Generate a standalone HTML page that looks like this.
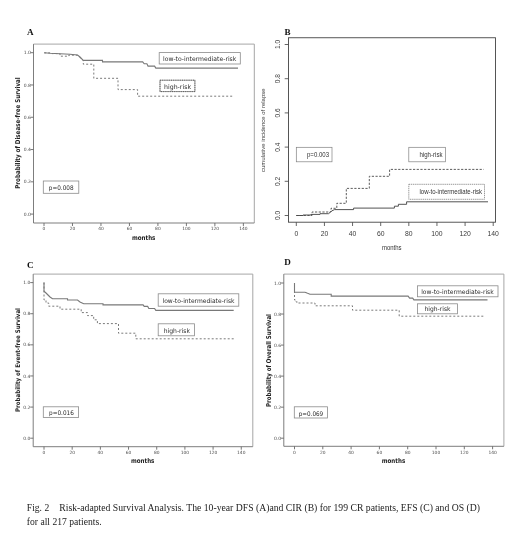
<!DOCTYPE html>
<html lang="en"><head><meta charset="utf-8"><title>Fig. 2 Risk-adapted Survival Analysis</title>
<style>html,body{margin:0;padding:0;background:#fff}body{width:520px;height:552px;overflow:hidden}svg{display:block}</style></head><body>
<svg width="520" height="552" viewBox="0 0 520 552">
<rect x="0" y="0" width="520" height="552" fill="#fff"/>
<path d="M33.5 44.1 L254.3 44.1 L254.3 223" fill="none" stroke="#a6a6a6" stroke-width="1"/>
<path d="M33.5 44.1 L33.5 223 L254.3 223" fill="none" stroke="#767676" stroke-width="0.95"/>
<line x1="30.5" y1="52.7" x2="33.5" y2="52.7" stroke="#666" stroke-width="0.9"/>
<text x="30.8" y="54.3" font-size="4.5" font-family='"DejaVu Sans","Liberation Sans",sans-serif' font-weight="normal" text-anchor="end" fill="#4c4c4c">1.0</text>
<line x1="30.5" y1="84.97999999999999" x2="33.5" y2="84.97999999999999" stroke="#666" stroke-width="0.9"/>
<text x="30.8" y="86.58" font-size="4.5" font-family='"DejaVu Sans","Liberation Sans",sans-serif' font-weight="normal" text-anchor="end" fill="#4c4c4c">0.8</text>
<line x1="30.5" y1="117.25999999999999" x2="33.5" y2="117.25999999999999" stroke="#666" stroke-width="0.9"/>
<text x="30.8" y="118.86" font-size="4.5" font-family='"DejaVu Sans","Liberation Sans",sans-serif' font-weight="normal" text-anchor="end" fill="#4c4c4c">0.6</text>
<line x1="30.5" y1="149.54" x2="33.5" y2="149.54" stroke="#666" stroke-width="0.9"/>
<text x="30.8" y="151.14" font-size="4.5" font-family='"DejaVu Sans","Liberation Sans",sans-serif' font-weight="normal" text-anchor="end" fill="#4c4c4c">0.4</text>
<line x1="30.5" y1="181.82" x2="33.5" y2="181.82" stroke="#666" stroke-width="0.9"/>
<text x="30.8" y="183.42" font-size="4.5" font-family='"DejaVu Sans","Liberation Sans",sans-serif' font-weight="normal" text-anchor="end" fill="#4c4c4c">0.2</text>
<line x1="30.5" y1="214.09999999999997" x2="33.5" y2="214.09999999999997" stroke="#666" stroke-width="0.9"/>
<text x="30.8" y="215.7" font-size="4.5" font-family='"DejaVu Sans","Liberation Sans",sans-serif' font-weight="normal" text-anchor="end" fill="#4c4c4c">0.0</text>
<line x1="44.0" y1="223" x2="44.0" y2="226.0" stroke="#666" stroke-width="0.9"/>
<text x="44.0" y="230.3" font-size="4.4" font-family='"DejaVu Sans","Liberation Sans",sans-serif' font-weight="normal" text-anchor="middle" fill="#4c4c4c">0</text>
<line x1="72.48" y1="223" x2="72.48" y2="226.0" stroke="#666" stroke-width="0.9"/>
<text x="72.48" y="230.3" font-size="4.4" font-family='"DejaVu Sans","Liberation Sans",sans-serif' font-weight="normal" text-anchor="middle" fill="#4c4c4c">20</text>
<line x1="100.96000000000001" y1="223" x2="100.96000000000001" y2="226.0" stroke="#666" stroke-width="0.9"/>
<text x="100.96" y="230.3" font-size="4.4" font-family='"DejaVu Sans","Liberation Sans",sans-serif' font-weight="normal" text-anchor="middle" fill="#4c4c4c">40</text>
<line x1="129.44" y1="223" x2="129.44" y2="226.0" stroke="#666" stroke-width="0.9"/>
<text x="129.44" y="230.3" font-size="4.4" font-family='"DejaVu Sans","Liberation Sans",sans-serif' font-weight="normal" text-anchor="middle" fill="#4c4c4c">60</text>
<line x1="157.92000000000002" y1="223" x2="157.92000000000002" y2="226.0" stroke="#666" stroke-width="0.9"/>
<text x="157.92" y="230.3" font-size="4.4" font-family='"DejaVu Sans","Liberation Sans",sans-serif' font-weight="normal" text-anchor="middle" fill="#4c4c4c">80</text>
<line x1="186.4" y1="223" x2="186.4" y2="226.0" stroke="#666" stroke-width="0.9"/>
<text x="186.4" y="230.3" font-size="4.4" font-family='"DejaVu Sans","Liberation Sans",sans-serif' font-weight="normal" text-anchor="middle" fill="#4c4c4c">100</text>
<line x1="214.88" y1="223" x2="214.88" y2="226.0" stroke="#666" stroke-width="0.9"/>
<text x="214.88" y="230.3" font-size="4.4" font-family='"DejaVu Sans","Liberation Sans",sans-serif' font-weight="normal" text-anchor="middle" fill="#4c4c4c">120</text>
<line x1="243.36" y1="223" x2="243.36" y2="226.0" stroke="#666" stroke-width="0.9"/>
<text x="243.36" y="230.3" font-size="4.4" font-family='"DejaVu Sans","Liberation Sans",sans-serif' font-weight="normal" text-anchor="middle" fill="#4c4c4c">140</text>
<text x="27" y="35.2" font-size="9.1" font-family='"Liberation Serif",serif' font-weight="bold" text-anchor="start" fill="#111">A</text>
<text x="143.7" y="239.9" font-size="6.6" font-family='"DejaVu Sans","Liberation Sans",sans-serif' font-weight="bold" text-anchor="middle" fill="#222" textLength="23.5" lengthAdjust="spacingAndGlyphs">months</text>
<text x="19.8" y="133" font-size="6.6" font-family='"DejaVu Sans","Liberation Sans",sans-serif' font-weight="bold" text-anchor="middle" fill="#222" transform="rotate(-90 19.8 133)" textLength="111.5" lengthAdjust="spacingAndGlyphs">Probability of Disease-free Survival</text>
<path d="M44.2 52.7 L50 53.2 L60 53.8 L70 54.3 L77.5 55 L80 57 L83.3 60.4 L102.5 60.4 L102.5 61.9 L142.7 61.9 L144.2 63.8 L146.9 63.8 L148 66.1 L154.6 66.1 L155.8 68.1 L238 68.1" fill="none" stroke="#787878" stroke-width="1.1" stroke-linejoin="miter"/>
<path d="M44.2 52.9 L52 52.9 L52 53.6 L60 53.6 L60 56.2 L68.8 56.2 L68.8 55.2 L77.5 55.2 L83.3 60.6 L83.3 64.2 L93.8 64.2 L93.8 78.3 L118 78.3 L118 89.6 L137.6 89.6 L137.6 96.2 L233.7 96.2" fill="none" stroke="#7a7a7a" stroke-width="1.0" stroke-dasharray="2 2" stroke-linejoin="miter"/>
<rect x="159.2" y="52.6" width="81.1" height="11.4" fill="#fff" stroke="#8a8a8a" stroke-width="0.8"/>
<text x="163.0" y="61.2" font-size="6.3" font-family='"DejaVu Sans","Liberation Sans",sans-serif' font-weight="normal" text-anchor="start" fill="#2a2a2a" textLength="73.3" lengthAdjust="spacingAndGlyphs">low-to-intermediate-risk</text>
<rect x="160" y="80.2" width="34.9" height="11.4" fill="#fff" stroke="#9a9a9a" stroke-width="0.9"/>
<rect x="160" y="80.2" width="34.9" height="11.4" fill="none" stroke="#555" stroke-width="0.9" stroke-dasharray="1 1.2"/>
<text x="164.0" y="88.9" font-size="6.3" font-family='"DejaVu Sans","Liberation Sans",sans-serif' font-weight="normal" text-anchor="start" fill="#2a2a2a" textLength="27" lengthAdjust="spacingAndGlyphs">high-risk</text>
<path d="M33.2 274.1 L252.8 274.1 L252.8 446.7" fill="none" stroke="#a6a6a6" stroke-width="1"/>
<path d="M33.2 274.1 L33.2 446.7 L252.8 446.7" fill="none" stroke="#767676" stroke-width="0.95"/>
<line x1="30.200000000000003" y1="282.6" x2="33.2" y2="282.6" stroke="#666" stroke-width="0.9"/>
<text x="30.500000000000004" y="284.2" font-size="4.5" font-family='"DejaVu Sans","Liberation Sans",sans-serif' font-weight="normal" text-anchor="end" fill="#4c4c4c">1.0</text>
<line x1="30.200000000000003" y1="313.72" x2="33.2" y2="313.72" stroke="#666" stroke-width="0.9"/>
<text x="30.500000000000004" y="315.32" font-size="4.5" font-family='"DejaVu Sans","Liberation Sans",sans-serif' font-weight="normal" text-anchor="end" fill="#4c4c4c">0.8</text>
<line x1="30.200000000000003" y1="344.84000000000003" x2="33.2" y2="344.84000000000003" stroke="#666" stroke-width="0.9"/>
<text x="30.500000000000004" y="346.44" font-size="4.5" font-family='"DejaVu Sans","Liberation Sans",sans-serif' font-weight="normal" text-anchor="end" fill="#4c4c4c">0.6</text>
<line x1="30.200000000000003" y1="375.96000000000004" x2="33.2" y2="375.96000000000004" stroke="#666" stroke-width="0.9"/>
<text x="30.500000000000004" y="377.56" font-size="4.5" font-family='"DejaVu Sans","Liberation Sans",sans-serif' font-weight="normal" text-anchor="end" fill="#4c4c4c">0.4</text>
<line x1="30.200000000000003" y1="407.08" x2="33.2" y2="407.08" stroke="#666" stroke-width="0.9"/>
<text x="30.500000000000004" y="408.68" font-size="4.5" font-family='"DejaVu Sans","Liberation Sans",sans-serif' font-weight="normal" text-anchor="end" fill="#4c4c4c">0.2</text>
<line x1="30.200000000000003" y1="438.2" x2="33.2" y2="438.2" stroke="#666" stroke-width="0.9"/>
<text x="30.500000000000004" y="439.8" font-size="4.5" font-family='"DejaVu Sans","Liberation Sans",sans-serif' font-weight="normal" text-anchor="end" fill="#4c4c4c">0.0</text>
<line x1="44.0" y1="446.7" x2="44.0" y2="449.7" stroke="#666" stroke-width="0.9"/>
<text x="44.0" y="454.0" font-size="4.4" font-family='"DejaVu Sans","Liberation Sans",sans-serif' font-weight="normal" text-anchor="middle" fill="#4c4c4c">0</text>
<line x1="72.18" y1="446.7" x2="72.18" y2="449.7" stroke="#666" stroke-width="0.9"/>
<text x="72.18" y="454.0" font-size="4.4" font-family='"DejaVu Sans","Liberation Sans",sans-serif' font-weight="normal" text-anchor="middle" fill="#4c4c4c">20</text>
<line x1="100.36" y1="446.7" x2="100.36" y2="449.7" stroke="#666" stroke-width="0.9"/>
<text x="100.36" y="454.0" font-size="4.4" font-family='"DejaVu Sans","Liberation Sans",sans-serif' font-weight="normal" text-anchor="middle" fill="#4c4c4c">40</text>
<line x1="128.54" y1="446.7" x2="128.54" y2="449.7" stroke="#666" stroke-width="0.9"/>
<text x="128.54" y="454.0" font-size="4.4" font-family='"DejaVu Sans","Liberation Sans",sans-serif' font-weight="normal" text-anchor="middle" fill="#4c4c4c">60</text>
<line x1="156.72" y1="446.7" x2="156.72" y2="449.7" stroke="#666" stroke-width="0.9"/>
<text x="156.72" y="454.0" font-size="4.4" font-family='"DejaVu Sans","Liberation Sans",sans-serif' font-weight="normal" text-anchor="middle" fill="#4c4c4c">80</text>
<line x1="184.9" y1="446.7" x2="184.9" y2="449.7" stroke="#666" stroke-width="0.9"/>
<text x="184.9" y="454.0" font-size="4.4" font-family='"DejaVu Sans","Liberation Sans",sans-serif' font-weight="normal" text-anchor="middle" fill="#4c4c4c">100</text>
<line x1="213.07999999999998" y1="446.7" x2="213.07999999999998" y2="449.7" stroke="#666" stroke-width="0.9"/>
<text x="213.08" y="454.0" font-size="4.4" font-family='"DejaVu Sans","Liberation Sans",sans-serif' font-weight="normal" text-anchor="middle" fill="#4c4c4c">120</text>
<line x1="241.26" y1="446.7" x2="241.26" y2="449.7" stroke="#666" stroke-width="0.9"/>
<text x="241.26" y="454.0" font-size="4.4" font-family='"DejaVu Sans","Liberation Sans",sans-serif' font-weight="normal" text-anchor="middle" fill="#4c4c4c">140</text>
<text x="27" y="267.6" font-size="9.1" font-family='"Liberation Serif",serif' font-weight="bold" text-anchor="start" fill="#111">C</text>
<text x="142.7" y="463.2" font-size="6.6" font-family='"DejaVu Sans","Liberation Sans",sans-serif' font-weight="bold" text-anchor="middle" fill="#222" textLength="23.5" lengthAdjust="spacingAndGlyphs">months</text>
<text x="19.6" y="360" font-size="6.3" font-family='"DejaVu Sans","Liberation Sans",sans-serif' font-weight="bold" text-anchor="middle" fill="#222" transform="rotate(-90 19.6 360)" textLength="104" lengthAdjust="spacingAndGlyphs">Probability of Event-free Survival</text>
<path d="M44 282.5 L44 291.2 L46 293 L48 295 L50 297 L52.5 298.7 L67.5 298.7 L67.5 300 L77.5 300 L80 302 L83.7 303.7 L103 303.7 L103 304.9 L143.1 304.9 L144.2 306.4 L147.7 306.4 L148.8 308.5 L154.6 308.5 L155.8 310.4 L233.7 310.4" fill="none" stroke="#787878" stroke-width="1.1" stroke-linejoin="miter"/>
<path d="M44 282.5 L44 300 L46 300 L46 303 L48.7 303 L48.7 306.2 L60 306.2 L60 309.2 L81.2 309.2 L81.2 312.6 L87.5 312.6 L87.5 315.6 L93.7 315.6 L93.7 319.8 L97.4 319.8 L97.4 323.6 L118.5 323.6 L118.5 333.2 L135.8 333.2 L135.8 338.8 L234.5 338.8" fill="none" stroke="#7a7a7a" stroke-width="1.0" stroke-dasharray="2 2" stroke-linejoin="miter"/>
<rect x="158.2" y="293.8" width="80.6" height="12.4" fill="#fff" stroke="#8a8a8a" stroke-width="0.8"/>
<text x="162.5" y="302.6" font-size="6.3" font-family='"DejaVu Sans","Liberation Sans",sans-serif' font-weight="normal" text-anchor="start" fill="#2a2a2a" textLength="72" lengthAdjust="spacingAndGlyphs">low-to-intermediate-risk</text>
<rect x="158.2" y="323.8" width="36.3" height="12.0" fill="#fff" stroke="#8a8a8a" stroke-width="0.8"/>
<text x="163.7" y="333.0" font-size="6.3" font-family='"DejaVu Sans","Liberation Sans",sans-serif' font-weight="normal" text-anchor="start" fill="#2a2a2a" textLength="26.3" lengthAdjust="spacingAndGlyphs">high-risk</text>
<rect x="43.3" y="406.8" width="35.3" height="10.8" fill="#fff" stroke="#8a8a8a" stroke-width="0.8"/>
<text x="49" y="415.3" font-size="6.3" font-family='"DejaVu Sans","Liberation Sans",sans-serif' font-weight="normal" text-anchor="start" fill="#2a2a2a" textLength="24.8" lengthAdjust="spacingAndGlyphs">p=0.016</text>
<path d="M283.8 274.1 L503.9 274.1 L503.9 446.3" fill="none" stroke="#a6a6a6" stroke-width="1"/>
<path d="M283.8 274.1 L283.8 446.3 L503.9 446.3" fill="none" stroke="#767676" stroke-width="0.95"/>
<line x1="280.8" y1="283.0" x2="283.8" y2="283.0" stroke="#666" stroke-width="0.9"/>
<text x="281.1" y="284.6" font-size="4.5" font-family='"DejaVu Sans","Liberation Sans",sans-serif' font-weight="normal" text-anchor="end" fill="#4c4c4c">1.0</text>
<line x1="280.8" y1="314.04" x2="283.8" y2="314.04" stroke="#666" stroke-width="0.9"/>
<text x="281.1" y="315.64" font-size="4.5" font-family='"DejaVu Sans","Liberation Sans",sans-serif' font-weight="normal" text-anchor="end" fill="#4c4c4c">0.8</text>
<line x1="280.8" y1="345.08" x2="283.8" y2="345.08" stroke="#666" stroke-width="0.9"/>
<text x="281.1" y="346.68" font-size="4.5" font-family='"DejaVu Sans","Liberation Sans",sans-serif' font-weight="normal" text-anchor="end" fill="#4c4c4c">0.6</text>
<line x1="280.8" y1="376.12" x2="283.8" y2="376.12" stroke="#666" stroke-width="0.9"/>
<text x="281.1" y="377.72" font-size="4.5" font-family='"DejaVu Sans","Liberation Sans",sans-serif' font-weight="normal" text-anchor="end" fill="#4c4c4c">0.4</text>
<line x1="280.8" y1="407.15999999999997" x2="283.8" y2="407.15999999999997" stroke="#666" stroke-width="0.9"/>
<text x="281.1" y="408.76" font-size="4.5" font-family='"DejaVu Sans","Liberation Sans",sans-serif' font-weight="normal" text-anchor="end" fill="#4c4c4c">0.2</text>
<line x1="280.8" y1="438.2" x2="283.8" y2="438.2" stroke="#666" stroke-width="0.9"/>
<text x="281.1" y="439.8" font-size="4.5" font-family='"DejaVu Sans","Liberation Sans",sans-serif' font-weight="normal" text-anchor="end" fill="#4c4c4c">0.0</text>
<line x1="294.5" y1="446.3" x2="294.5" y2="449.3" stroke="#666" stroke-width="0.9"/>
<text x="294.5" y="453.6" font-size="4.4" font-family='"DejaVu Sans","Liberation Sans",sans-serif' font-weight="normal" text-anchor="middle" fill="#4c4c4c">0</text>
<line x1="322.8" y1="446.3" x2="322.8" y2="449.3" stroke="#666" stroke-width="0.9"/>
<text x="322.8" y="453.6" font-size="4.4" font-family='"DejaVu Sans","Liberation Sans",sans-serif' font-weight="normal" text-anchor="middle" fill="#4c4c4c">20</text>
<line x1="351.1" y1="446.3" x2="351.1" y2="449.3" stroke="#666" stroke-width="0.9"/>
<text x="351.1" y="453.6" font-size="4.4" font-family='"DejaVu Sans","Liberation Sans",sans-serif' font-weight="normal" text-anchor="middle" fill="#4c4c4c">40</text>
<line x1="379.4" y1="446.3" x2="379.4" y2="449.3" stroke="#666" stroke-width="0.9"/>
<text x="379.4" y="453.6" font-size="4.4" font-family='"DejaVu Sans","Liberation Sans",sans-serif' font-weight="normal" text-anchor="middle" fill="#4c4c4c">60</text>
<line x1="407.7" y1="446.3" x2="407.7" y2="449.3" stroke="#666" stroke-width="0.9"/>
<text x="407.7" y="453.6" font-size="4.4" font-family='"DejaVu Sans","Liberation Sans",sans-serif' font-weight="normal" text-anchor="middle" fill="#4c4c4c">80</text>
<line x1="436.0" y1="446.3" x2="436.0" y2="449.3" stroke="#666" stroke-width="0.9"/>
<text x="436.0" y="453.6" font-size="4.4" font-family='"DejaVu Sans","Liberation Sans",sans-serif' font-weight="normal" text-anchor="middle" fill="#4c4c4c">100</text>
<line x1="464.3" y1="446.3" x2="464.3" y2="449.3" stroke="#666" stroke-width="0.9"/>
<text x="464.3" y="453.6" font-size="4.4" font-family='"DejaVu Sans","Liberation Sans",sans-serif' font-weight="normal" text-anchor="middle" fill="#4c4c4c">120</text>
<line x1="492.6" y1="446.3" x2="492.6" y2="449.3" stroke="#666" stroke-width="0.9"/>
<text x="492.6" y="453.6" font-size="4.4" font-family='"DejaVu Sans","Liberation Sans",sans-serif' font-weight="normal" text-anchor="middle" fill="#4c4c4c">140</text>
<text x="284.2" y="265.4" font-size="9.1" font-family='"Liberation Serif",serif' font-weight="bold" text-anchor="start" fill="#111">D</text>
<text x="393.5" y="463.2" font-size="6.6" font-family='"DejaVu Sans","Liberation Sans",sans-serif' font-weight="bold" text-anchor="middle" fill="#222" textLength="23.5" lengthAdjust="spacingAndGlyphs">months</text>
<text x="271" y="360.5" font-size="6.6" font-family='"DejaVu Sans","Liberation Sans",sans-serif' font-weight="bold" text-anchor="middle" fill="#222" transform="rotate(-90 271 360.5)" textLength="93" lengthAdjust="spacingAndGlyphs">Probability of Overall Survival</text>
<path d="M294.5 283 L294.5 292.2 L305 292.2 L307 293.1 L310 294.2 L331.2 294.2 L331.2 296.1 L408.1 296.1 L409.6 298.1 L412.7 298.1 L413.9 299.9 L487.5 299.9" fill="none" stroke="#787878" stroke-width="1.1" stroke-linejoin="miter"/>
<path d="M294.5 283 L294.5 300 L296 300 L296 302 L297.5 302 L297.5 303 L315 303 L315 305.8 L352.5 305.8 L352.5 310.2 L399.2 310.2 L399.2 316.2 L484.5 316.2" fill="none" stroke="#7a7a7a" stroke-width="1.0" stroke-dasharray="2 2" stroke-linejoin="miter"/>
<rect x="417.5" y="285.8" width="80.5" height="11.0" fill="#fff" stroke="#8a8a8a" stroke-width="0.8"/>
<text x="421.2" y="294.2" font-size="6.3" font-family='"DejaVu Sans","Liberation Sans",sans-serif' font-weight="normal" text-anchor="start" fill="#2a2a2a" textLength="72.5" lengthAdjust="spacingAndGlyphs">low-to-intermediate-risk</text>
<rect x="417.5" y="303.8" width="40.0" height="10.0" fill="#fff" stroke="#8a8a8a" stroke-width="0.8"/>
<text x="424.5" y="311.4" font-size="6.3" font-family='"DejaVu Sans","Liberation Sans",sans-serif' font-weight="normal" text-anchor="start" fill="#2a2a2a" textLength="26" lengthAdjust="spacingAndGlyphs">high-risk</text>
<rect x="294.3" y="406.8" width="33.2" height="11.2" fill="#fff" stroke="#8a8a8a" stroke-width="0.8"/>
<text x="298.7" y="415.5" font-size="6.3" font-family='"DejaVu Sans","Liberation Sans",sans-serif' font-weight="normal" text-anchor="start" fill="#2a2a2a" textLength="24.5" lengthAdjust="spacingAndGlyphs">p=0.069</text>
<rect x="43.3" y="181" width="35.5" height="12.3" fill="#fff" stroke="#8a8a8a" stroke-width="0.8"/>
<text x="48.8" y="190.3" font-size="6.3" font-family='"DejaVu Sans","Liberation Sans",sans-serif' font-weight="normal" text-anchor="start" fill="#2a2a2a" textLength="24.8" lengthAdjust="spacingAndGlyphs">p=0.008</text>
<rect x="288.5" y="37.75" width="207.0" height="184.45" fill="none" stroke="#444" stroke-width="0.9"/>
<line x1="296.3" y1="222.2" x2="296.3" y2="226.0" stroke="#4a4a4a" stroke-width="0.85"/>
<text x="296.3" y="235.8" font-size="6.8" font-family='"Liberation Sans",sans-serif' font-weight="normal" text-anchor="middle" fill="#3a3a3a">0</text>
<line x1="324.43" y1="222.2" x2="324.43" y2="226.0" stroke="#4a4a4a" stroke-width="0.85"/>
<text x="324.43" y="235.8" font-size="6.8" font-family='"Liberation Sans",sans-serif' font-weight="normal" text-anchor="middle" fill="#3a3a3a">20</text>
<line x1="352.56" y1="222.2" x2="352.56" y2="226.0" stroke="#4a4a4a" stroke-width="0.85"/>
<text x="352.56" y="235.8" font-size="6.8" font-family='"Liberation Sans",sans-serif' font-weight="normal" text-anchor="middle" fill="#3a3a3a">40</text>
<line x1="380.69" y1="222.2" x2="380.69" y2="226.0" stroke="#4a4a4a" stroke-width="0.85"/>
<text x="380.69" y="235.8" font-size="6.8" font-family='"Liberation Sans",sans-serif' font-weight="normal" text-anchor="middle" fill="#3a3a3a">60</text>
<line x1="408.82" y1="222.2" x2="408.82" y2="226.0" stroke="#4a4a4a" stroke-width="0.85"/>
<text x="408.82" y="235.8" font-size="6.8" font-family='"Liberation Sans",sans-serif' font-weight="normal" text-anchor="middle" fill="#3a3a3a">80</text>
<line x1="436.95" y1="222.2" x2="436.95" y2="226.0" stroke="#4a4a4a" stroke-width="0.85"/>
<text x="436.95" y="235.8" font-size="6.8" font-family='"Liberation Sans",sans-serif' font-weight="normal" text-anchor="middle" fill="#3a3a3a">100</text>
<line x1="465.08" y1="222.2" x2="465.08" y2="226.0" stroke="#4a4a4a" stroke-width="0.85"/>
<text x="465.08" y="235.8" font-size="6.8" font-family='"Liberation Sans",sans-serif' font-weight="normal" text-anchor="middle" fill="#3a3a3a">120</text>
<line x1="493.21" y1="222.2" x2="493.21" y2="226.0" stroke="#4a4a4a" stroke-width="0.85"/>
<text x="493.21" y="235.8" font-size="6.8" font-family='"Liberation Sans",sans-serif' font-weight="normal" text-anchor="middle" fill="#3a3a3a">140</text>
<line x1="284.7" y1="215.5" x2="288.5" y2="215.5" stroke="#4a4a4a" stroke-width="0.85"/>
<text x="280.2" y="215.5" font-size="6.6" font-family='"Liberation Sans",sans-serif' font-weight="normal" text-anchor="middle" fill="#3a3a3a" transform="rotate(-90 280.2 215.5)">0.0</text>
<line x1="284.7" y1="181.3" x2="288.5" y2="181.3" stroke="#4a4a4a" stroke-width="0.85"/>
<text x="280.2" y="181.3" font-size="6.6" font-family='"Liberation Sans",sans-serif' font-weight="normal" text-anchor="middle" fill="#3a3a3a" transform="rotate(-90 280.2 181.3)">0.2</text>
<line x1="284.7" y1="147.1" x2="288.5" y2="147.1" stroke="#4a4a4a" stroke-width="0.85"/>
<text x="280.2" y="147.1" font-size="6.6" font-family='"Liberation Sans",sans-serif' font-weight="normal" text-anchor="middle" fill="#3a3a3a" transform="rotate(-90 280.2 147.1)">0.4</text>
<line x1="284.7" y1="112.9" x2="288.5" y2="112.9" stroke="#4a4a4a" stroke-width="0.85"/>
<text x="280.2" y="112.9" font-size="6.6" font-family='"Liberation Sans",sans-serif' font-weight="normal" text-anchor="middle" fill="#3a3a3a" transform="rotate(-90 280.2 112.9)">0.6</text>
<line x1="284.7" y1="78.7" x2="288.5" y2="78.7" stroke="#4a4a4a" stroke-width="0.85"/>
<text x="280.2" y="78.7" font-size="6.6" font-family='"Liberation Sans",sans-serif' font-weight="normal" text-anchor="middle" fill="#3a3a3a" transform="rotate(-90 280.2 78.7)">0.8</text>
<line x1="284.7" y1="44.5" x2="288.5" y2="44.5" stroke="#4a4a4a" stroke-width="0.85"/>
<text x="280.2" y="44.5" font-size="6.6" font-family='"Liberation Sans",sans-serif' font-weight="normal" text-anchor="middle" fill="#3a3a3a" transform="rotate(-90 280.2 44.5)">1.0</text>
<text x="284.5" y="35.1" font-size="9.1" font-family='"Liberation Serif",serif' font-weight="bold" text-anchor="start" fill="#111">B</text>
<text x="391.8" y="249.6" font-size="6.3" font-family='"Liberation Sans",sans-serif' font-weight="normal" text-anchor="middle" fill="#333" textLength="19.6" lengthAdjust="spacingAndGlyphs">months</text>
<text x="265.5" y="130.2" font-size="6.2" font-family='"Liberation Sans",sans-serif' font-weight="normal" text-anchor="middle" fill="#3a3a3a" transform="rotate(-90 265.5 130.2)" textLength="83.5" lengthAdjust="spacingAndGlyphs">cumulative incidence of relapse</text>
<path d="M296.3 215.5 L303 215.5 L303 215 L311 215 L311 214.4 L320 214.4 L320 213.7 L328.5 213.7 L330 212.5 L331.5 211 L334.5 209.6 L353.6 209.6 L353.6 208.1 L394.4 208.1 L394.4 206.2 L398.4 206.2 L398.4 204.3 L406.6 204.3 L406.6 201.8 L488 201.8" fill="none" stroke="#4a4a4a" stroke-width="0.95" stroke-linejoin="miter"/>
<path d="M296.3 215.5 L312 215.5 L312 212 L331 212 L331 208.3 L336.8 208.3 L336.8 203.3 L346.3 203.3 L346.3 188.4 L369.3 188.4 L369.3 176.3 L389.6 176.3 L389.6 169.4 L483.7 169.4" fill="none" stroke="#4a4a4a" stroke-width="0.9" stroke-dasharray="2.2 1.5" stroke-linejoin="miter"/>
<rect x="296.3" y="147.3" width="35.7" height="14.5" fill="#fff" stroke="#808080" stroke-width="0.7"/>
<text x="307" y="157" font-size="6.3" font-family='"Liberation Sans",sans-serif' font-weight="normal" text-anchor="start" fill="#333" textLength="22" lengthAdjust="spacingAndGlyphs">p=0.003</text>
<rect x="408.8" y="147.3" width="36.7" height="14.5" fill="#fff" stroke="#808080" stroke-width="0.7"/>
<text x="419.5" y="157" font-size="6.3" font-family='"Liberation Sans",sans-serif' font-weight="normal" text-anchor="start" fill="#333" textLength="23" lengthAdjust="spacingAndGlyphs">high-risk</text>
<rect x="408.8" y="184.3" width="75.7" height="15.0" fill="#fff" stroke="#707070" stroke-width="0.7" stroke-dasharray="1.4 0.7"/>
<text x="419.5" y="194" font-size="6.3" font-family='"Liberation Sans",sans-serif' font-weight="normal" text-anchor="start" fill="#333" textLength="62.5" lengthAdjust="spacingAndGlyphs">low-to-intermediate-risk</text>
<text x="26.8" y="510.8" font-size="9.6" font-family='"Liberation Serif",serif' font-weight="normal" text-anchor="start" fill="#222">Fig. 2</text>
<text x="59.3" y="510.8" font-size="9.6" font-family='"Liberation Serif",serif' font-weight="normal" text-anchor="start" fill="#222" textLength="420.7" lengthAdjust="spacingAndGlyphs">Risk-adapted Survival Analysis. The 10-year DFS (A)and CIR (B) for 199 CR patients, EFS (C) and OS (D)</text>
<text x="26.8" y="525.2" font-size="9.6" font-family='"Liberation Serif",serif' font-weight="normal" text-anchor="start" fill="#222" textLength="74.8" lengthAdjust="spacingAndGlyphs">for all 217 patients.</text>
</svg></body></html>
